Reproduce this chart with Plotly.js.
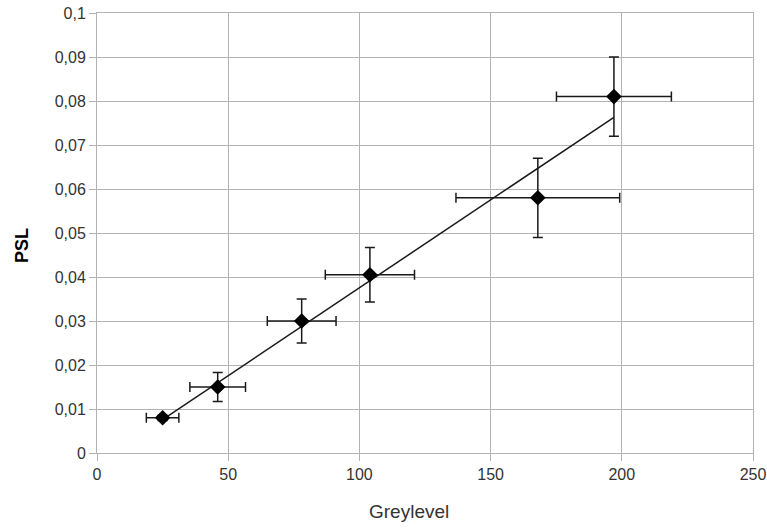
<!DOCTYPE html>
<html>
<head>
<meta charset="utf-8">
<script src="https://cdn.plot.ly/plotly-3.0.1.min.js"></script>
<style>html,body{margin:0;padding:0;background:#fff;}#chart{width:767px;height:529px;}</style>
</head>
<body>
<div id="chart"></div>
<script>
const greylevel = [25, 46, 78, 104, 168, 197];
const psl = [0.008, 0.015, 0.030, 0.0405, 0.058, 0.081];
const greylevelErr = [6.2, 10.6, 13.1, 17, 31.2, 21.9];
const pslErr = [0.0006, 0.0033, 0.005, 0.0062, 0.009, 0.009];
const xTitle = 'Greylevel';
const yTitle = 'PSL';

// linear least-squares trendline from the data
const n = greylevel.length;
const mx = greylevel.reduce((a, b) => a + b, 0) / n;
const my = psl.reduce((a, b) => a + b, 0) / n;
let sxy = 0, sxx = 0;
for (let i = 0; i < n; i++) { sxy += (greylevel[i] - mx) * (psl[i] - my); sxx += (greylevel[i] - mx) ** 2; }
const slope = sxy / sxx, icpt = my - slope * mx;
const trendX = [Math.min(...greylevel), Math.max(...greylevel)];
const trendY = trendX.map(v => icpt + slope * v);

const traces = [
  { x: trendX, y: trendY, mode: 'lines', line: { color: '#1a1a1a', width: 1.5 }, hoverinfo: 'skip', showlegend: false },
  {
    x: greylevel, y: psl, mode: 'markers', showlegend: false,
    marker: { symbol: 'diamond', size: 12, color: '#000' },
    error_x: { type: 'data', array: greylevelErr, visible: true, color: '#1a1a1a', thickness: 1.5, width: 5 },
    error_y: { type: 'data', array: pslErr, visible: true, color: '#1a1a1a', thickness: 1.5, width: 5 }
  }
];

const FONT = 'Liberation Sans, Arial, sans-serif';
const axisCommon = {
  showline: true, mirror: true, linecolor: '#b3b3b3', linewidth: 1,
  showgrid: true, gridcolor: '#b3b3b3', gridwidth: 1,
  zeroline: false, ticks: 'outside', ticklen: 7, tickcolor: '#b3b3b3',
  tickfont: { family: FONT, size: 16, color: '#333' }
};

const layout = {
  width: 767, height: 529,
  margin: { l: 97, r: 14, t: 13, b: 76 },
  paper_bgcolor: '#fff', plot_bgcolor: '#fff',
  separators: ',.',
  xaxis: Object.assign({}, axisCommon, { range: [0, 250], dtick: 50 }),
  yaxis: Object.assign({}, axisCommon, { range: [0, 0.1], dtick: 0.01 }),
  annotations: [
    { text: xTitle, xref: 'paper', yref: 'paper', x: 0.4756, y: -0.134, xanchor: 'center', yanchor: 'middle',
      showarrow: false, font: { family: FONT, size: 19, color: '#333' } },
    { text: '<b>' + yTitle + '</b>', xref: 'paper', yref: 'paper', x: -0.1143, y: 0.4705, xanchor: 'center', yanchor: 'middle',
      textangle: -90, showarrow: false, font: { family: FONT, size: 18, color: '#000' } }
  ]
};

Plotly.newPlot('chart', traces, layout, { displayModeBar: false, staticPlot: true });
</script>
</body>
</html>
